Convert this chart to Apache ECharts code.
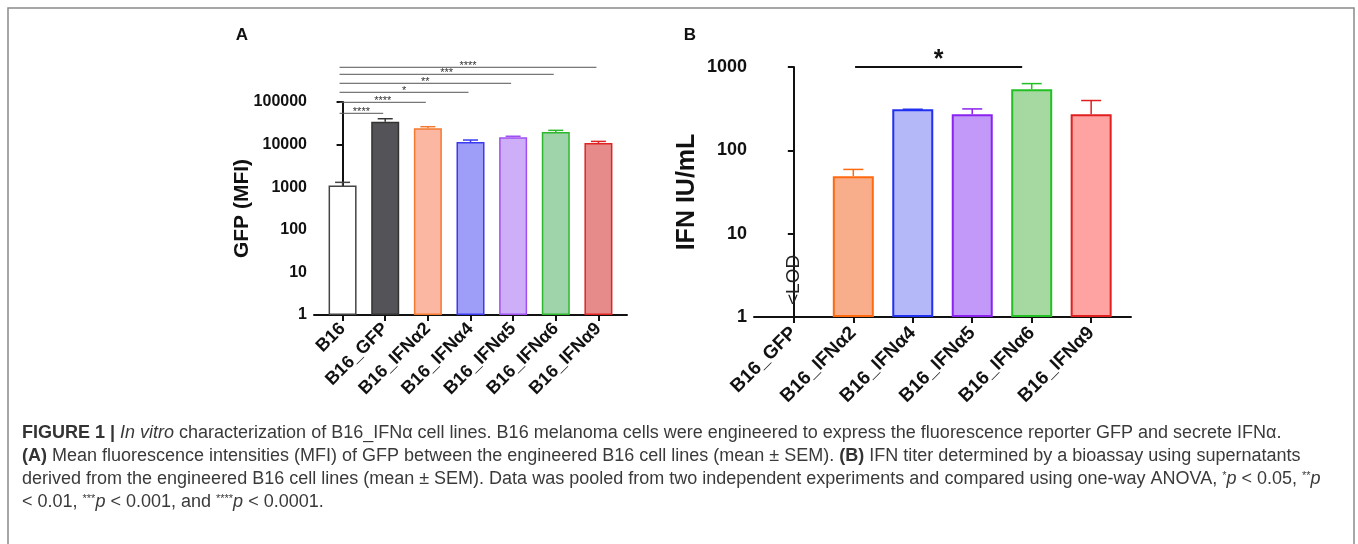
<!DOCTYPE html>
<html><head><meta charset="utf-8">
<script src="https://cdn.jsdelivr.net/npm/echarts@6/dist/echarts.min.js"></script>
<style>html,body{margin:0;padding:0;background:#fff}#c{width:1358px;height:544px}</style>
</head><body><div id="c"></div>
<script>
// ---------- Panel A data ----------
const catsA = ['B16','B16_GFP','B16_IFNα2','B16_IFNα4','B16_IFNα5','B16_IFNα6','B16_IFNα9'];
const meanA = [1100, 34400, 24100, 11500, 14800, 19800, 10900];
const upperA = [1300, 40500, 26300, 12800, 15700, 21600, 11900];
const fillA = ['#ffffff','#545458','#fcb7a3','#9e9ef9','#cfaef9','#9fd3a9','#e68a8a'];
const edgeA = ['#444444','#333333','#f47a30','#3a3af0','#a050f0','#2db82d','#e02424'];
const ticksA = [1, 10, 100, 1000, 10000, 100000];
const sigAFrom = [0, 0, 0, 0, 0, 0];
const sigATo = [1, 2, 3, 4, 5, 6];
const sigALevel = [54300, 98400, 169000, 275000, 447000, 653000];
const sigALabel = ['****','****','*','**','***','****'];

// ---------- Panel B data ----------
const catsB = ['B16_GFP','B16_IFNα2','B16_IFNα4','B16_IFNα5','B16_IFNα6','B16_IFNα9'];
const meanB = [null, 49, 311, 271, 541, 271];
const upperB = [null, 59, 311, 314, 632, 396];
const fillB = ['#ffffff','#f8ae8a','#b4b8f9','#c298f8','#a6d8a2','#ffa2a2'];
const edgeB = ['#444444','#ff6a10','#2030f0','#8a22f0','#22c022','#e02020'];
const ticksB = [1, 10, 100, 1000];
const sigBFrom = [1.03];
const sigBTo = [3.84];
const sigBLevel = [1000];
const sigBLabel = ['*'];
const lodIndex = 0;
const lodText = '<LOD';

// ---------- Caption ----------
const captionLines = [
  '{b|FIGURE 1 |} {i|In vitro} characterization of B16_IFNα cell lines. B16 melanoma cells were engineered to express the fluorescence reporter GFP and secrete IFNα.',
  '{b|(A)} Mean fluorescence intensities (MFI) of GFP between the engineered B16 cell lines (mean ± SEM). {b|(B)} IFN titer determined by a bioassay using supernatants',
  'derived from the engineered B16 cell lines (mean ± SEM). Data was pooled from two independent experiments and compared using one-way ANOVA, {s|*}{i|p} < 0.05, {s|**}{i|p}',
  '< 0.01, {s|***}{i|p} < 0.001, and {s|****}{i|p} < 0.0001.'
];

const FONT = '"Liberation Sans", Arial, sans-serif';
const idx = n => Array.from({length: n}, (_, i) => i);

function errRender(edges, capW) {
  return function (params, api) {
    const x = api.value(0), m = api.value(1), u = api.value(2);
    const p0 = api.coord([x, m]), p1 = api.coord([x, u]);
    const c = edges[Math.round(x)];
    return {type: 'group', children: [
      {type: 'line', shape: {x1: p0[0], y1: p0[1], x2: p1[0], y2: p1[1]}, style: {stroke: c, lineWidth: 1.5}},
      {type: 'line', shape: {x1: p1[0] - capW / 2, y1: p1[1], x2: p1[0] + capW / 2, y2: p1[1]}, style: {stroke: c, lineWidth: 1.5}}
    ]};
  };
}
function sigRender(labels, opts) {
  return function (params, api) {
    const a = api.coord([api.value(0), api.value(2)]);
    const b = api.coord([api.value(1), api.value(2)]);
    const x1 = a[0] + opts.inset0, x2 = b[0] + opts.inset1;
    return {type: 'group', children: [
      {type: 'line', shape: {x1: x1, y1: a[1], x2: x2, y2: a[1]}, style: {stroke: opts.color, lineWidth: opts.lw}},
      {type: 'text', x: (x1 + x2) / 2, y: a[1] + opts.dy, style: {text: labels[params.dataIndex], fill: opts.tc, font: opts.font, align: 'center', verticalAlign: 'bottom'}}
    ]};
  };
}

function xAxisCfg(grid, cats, max, fs, margin) {
  return {
    type: 'value', gridIndex: grid, min: -0.67, max: max,
    splitLine: {show: false},
    axisLine: {show: true, lineStyle: {color: '#111', width: 2}},
    axisTick: {show: true, customValues: idx(cats.length), length: 6, lineStyle: {color: '#111', width: 2}},
    axisLabel: {customValues: idx(cats.length), rotate: 45, margin: margin, formatter: v => cats[Math.round(v)] || '',
      color: '#111', fontFamily: FONT, fontWeight: 'bold', fontSize: fs}
  };
}
function yAxisCfg(grid, ticks, name, nameFs, nameGap, labFs) {
  return {
    type: 'log', logBase: 10, gridIndex: grid, min: ticks[0], max: ticks[ticks.length - 1],
    name: name, nameLocation: 'middle', nameGap: nameGap, nameMoveOverlap: false,
    nameTextStyle: {fontFamily: FONT, fontWeight: 'bold', fontSize: nameFs, color: '#111'},
    splitLine: {show: false},
    axisLine: {show: true, lineStyle: {color: '#111', width: 2}},
    axisTick: {show: true, customValues: ticks, length: 6, lineStyle: {color: '#111', width: 2}},
    axisLabel: {customValues: ticks, margin: 7, formatter: v => String(Math.round(v)),
      color: '#111', fontFamily: FONT, fontWeight: 'bold', fontSize: labFs}
  };
}

const chart = echarts.init(document.getElementById('c'), null, {renderer: 'canvas'});
const option = {
  backgroundColor: '#fff',
  animation: false,
  grid: [
    {left: 314, top: 102, width: 313, height: 213},
    {left: 754, top: 67, width: 377, height: 250}
  ],
  xAxis: [xAxisCfg(0, catsA, 6.67, 18, 11), xAxisCfg(1, catsB, 5.67, 19, 13)],
  yAxis: [yAxisCfg(0, ticksA, 'GFP (MFI)', 21, 61, 16), yAxisCfg(1, ticksB, 'IFN IU/mL', 25, 54, 18)],
  series: [
    {type: 'bar', xAxisIndex: 0, yAxisIndex: 0, barWidth: 28, z: 2,
     data: meanA.map((v, i) => ({value: [i, v], itemStyle: {color: fillA[i], borderColor: edgeA[i], borderWidth: 1.5}}))},
    {type: 'custom', xAxisIndex: 0, yAxisIndex: 0, z: 3, clip: false,
     renderItem: errRender(edgeA, 15), data: meanA.map((v, i) => [i, v, upperA[i]])},
    {type: 'custom', xAxisIndex: 0, yAxisIndex: 0, z: 3, clip: false,
     renderItem: sigRender(sigALabel, {inset0: -3, inset1: -2, color: '#555', lw: 1, tc: '#333', font: '11px ' + FONT, dy: 4}),
     data: sigATo.map((t, i) => [sigAFrom[i], t, sigALevel[i]])},
    {type: 'bar', xAxisIndex: 1, yAxisIndex: 1, barWidth: 41, z: 2,
     data: meanB.map((v, i) => v == null ? null : ({value: [i, v], itemStyle: {color: fillB[i], borderColor: edgeB[i], borderWidth: 2}})).filter(d => d)},
    {type: 'custom', xAxisIndex: 1, yAxisIndex: 1, z: 3, clip: false,
     renderItem: errRender(edgeB, 20), data: meanB.map((v, i) => v == null ? null : [i, v, upperB[i]]).filter(d => d)},
    {type: 'custom', xAxisIndex: 1, yAxisIndex: 1, z: 3, clip: false,
     renderItem: sigRender(sigBLabel, {inset0: 0, inset1: 0, color: '#111', lw: 2, tc: '#111', font: 'bold 25px ' + FONT, dy: 6}),
     data: sigBTo.map((t, i) => [sigBFrom[i], t, sigBLevel[i]])},
    {type: 'custom', xAxisIndex: 1, yAxisIndex: 1, z: 3, clip: false,
     renderItem: function (params, api) {
       const p = api.coord([api.value(0), api.value(1)]);
       return {type: 'text', x: p[0], y: p[1] - 12, rotation: Math.PI / 2,
         style: {text: lodText, fill: '#222', font: '19px ' + FONT, align: 'left', verticalAlign: 'middle'}};
     },
     data: [[lodIndex, ticksB[0]]]}
  ],
  graphic: [
    {type: 'rect', shape: {x: 8, y: 8, width: 1346, height: 600}, style: {fill: 'none', stroke: '#8a8a8a', lineWidth: 1.5}, silent: true},
    {type: 'text', x: 242, y: 35, style: {text: 'A', font: 'bold 17px ' + FONT, fill: '#111', align: 'center', verticalAlign: 'middle'}},
    {type: 'text', x: 690, y: 35, style: {text: 'B', font: 'bold 17px ' + FONT, fill: '#111', align: 'center', verticalAlign: 'middle'}}
  ].concat(captionLines.map((t, i) => ({
    type: 'text', x: 22, y: 433 + i * 23,
    style: {
      text: t, fill: '#3a3a3a', fontFamily: FONT, fontSize: 18, verticalAlign: 'middle', align: 'left',
      rich: {
        b: {fontFamily: FONT, fontSize: 18, fontWeight: 'bold', fill: '#333'},
        i: {fontFamily: FONT, fontSize: 18, fontStyle: 'italic', fill: '#3a3a3a'},
        s: {fontFamily: FONT, fontSize: 11, fill: '#3a3a3a', verticalAlign: 'top'}
      }
    }
  })))
};
chart.setOption(option);
</script>
</body></html>
